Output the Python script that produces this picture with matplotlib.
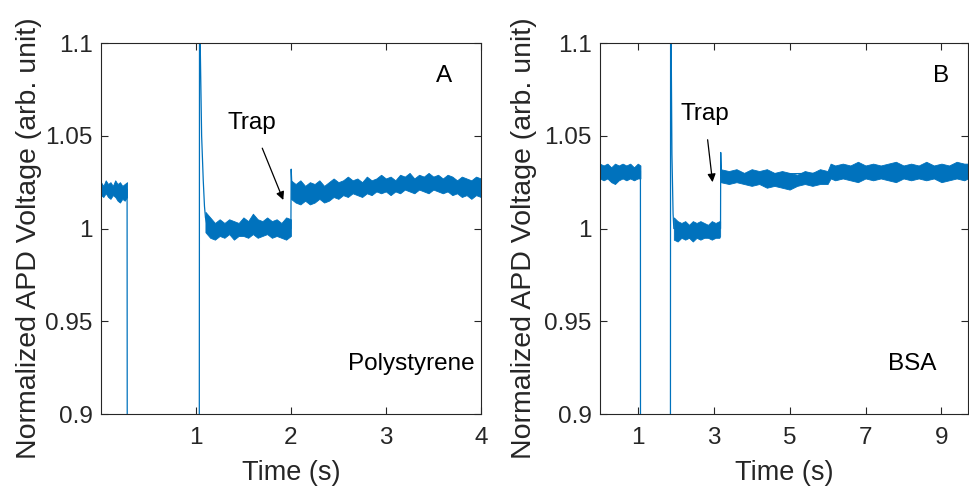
import matplotlib

matplotlib.use("Agg")
import matplotlib.pyplot as plt

# ---- panel A: polystyrene ----
# main trace through the transitions (drop, re-entry spike, decay, trap step)
trace_a_t = [0, 0.275, 0.277, 1.035, 1.038, 1.045, 1.06, 1.077, 1.09, 1.10, 1.12,
             1.99, 2.0, 2.003, 2.012, 4.0]
trace_a_v = [1.021, 1.021, 0.85, 0.85, 1.15, 1.10, 1.05, 1.026, 1.012, 1.006, 1.001,
             1.0, 1.0, 1.032, 1.021, 1.023]

# noise band envelopes (upper / lower edge), one set per flat stretch
band_a1_t = [0, 0.025, 0.05, 0.075, 0.1, 0.125, 0.15, 0.175, 0.2, 0.225, 0.25, 0.275]
band_a1_hi = [1.025, 1.023, 1.026, 1.024, 1.025, 1.023, 1.026, 1.024, 1.025, 1.023, 1.024, 1.025]
band_a1_lo = [1.018, 1.017, 1.019, 1.017, 1.016, 1.018, 1.017, 1.015, 1.014, 1.016, 1.015, 1.017]

band_a2_t = [1.10, 1.15, 1.20, 1.25, 1.30, 1.35, 1.40, 1.45, 1.50, 1.55,
             1.60, 1.65, 1.70, 1.75, 1.80, 1.85, 1.90, 1.95, 2.00]
band_a2_hi = [1.009, 1.006, 1.003, 1.005, 1.003, 1.005, 1.004, 1.003, 1.006, 1.004,
              1.008, 1.005, 1.004, 1.006, 1.004, 1.005, 1.003, 1.006, 1.005]
band_a2_lo = [0.998, 0.995, 0.994, 0.996, 0.995, 0.997, 0.994, 0.996, 0.996, 0.995,
              0.997, 0.995, 0.996, 0.997, 0.995, 0.996, 0.995, 0.994, 0.996]

band_a3_t = [2.00, 2.05, 2.10, 2.15, 2.20, 2.25, 2.30, 2.35, 2.40, 2.45,
             2.50, 2.55, 2.60, 2.65, 2.70, 2.75, 2.80, 2.85, 2.90, 2.95,
             3.00, 3.05, 3.10, 3.15, 3.20, 3.25, 3.30, 3.35, 3.40, 3.45,
             3.50, 3.55, 3.60, 3.65, 3.70, 3.75, 3.80, 3.85, 3.90, 3.95,
             4.00]
band_a3_hi = [1.026, 1.024, 1.026, 1.023, 1.025, 1.024, 1.026, 1.023, 1.025, 1.027,
              1.025, 1.026, 1.028, 1.026, 1.027, 1.025, 1.028, 1.026, 1.027, 1.029,
              1.027, 1.028, 1.026, 1.029, 1.028, 1.030, 1.027, 1.029, 1.028, 1.030,
              1.028, 1.029, 1.027, 1.029, 1.028, 1.026, 1.028, 1.027, 1.026, 1.028,
              1.027]
band_a3_lo = [1.016, 1.014, 1.013, 1.015, 1.013, 1.014, 1.016, 1.014, 1.015, 1.017,
              1.016, 1.018, 1.017, 1.019, 1.018, 1.017, 1.019, 1.018, 1.020, 1.019,
              1.020, 1.018, 1.020, 1.019, 1.021, 1.020, 1.019, 1.021, 1.020, 1.019,
              1.021, 1.020, 1.019, 1.020, 1.018, 1.019, 1.017, 1.018, 1.016, 1.018,
              1.017]

# ---- panel B: BSA ----
trace_b_t = [0, 1.07, 1.072, 1.86, 1.865, 1.88, 1.90, 1.93, 1.95,
             3.17, 3.18, 3.185, 3.2, 9.7]
trace_b_v = [1.031, 1.031, 0.85, 0.85, 1.15, 1.10, 1.04, 1.008, 1.0,
             1.0, 1.0, 1.041, 1.029, 1.031]

band_b1_t = [0, 0.1, 0.2, 0.3, 0.4, 0.5, 0.6, 0.7, 0.8, 0.9, 1.0, 1.07]
band_b1_hi = [1.035, 1.034, 1.035, 1.033, 1.035, 1.034, 1.035, 1.034, 1.035, 1.033, 1.035, 1.034]
band_b1_lo = [1.027, 1.026, 1.027, 1.025, 1.024, 1.026, 1.027, 1.026, 1.027, 1.026, 1.027, 1.027]

band_b2_t = [1.95, 2.05, 2.15, 2.25, 2.35, 2.45, 2.55, 2.65, 2.75, 2.85, 2.95, 3.05, 3.15, 3.17]
band_b2_hi = [1.006, 1.004, 1.003, 1.004, 1.002, 1.004, 1.003, 1.004, 1.003, 1.002,
              1.004, 1.003, 1.004, 1.004]
band_b2_lo = [0.994, 0.993, 0.995, 0.994, 0.995, 0.993, 0.995, 0.994, 0.995, 0.995,
              0.994, 0.995, 0.995, 0.996]

band_b3_t = [3.18, 3.4, 3.6, 3.8, 4.0, 4.2, 4.4, 4.6, 4.8, 5.0,
             5.2, 5.4, 5.6, 5.8, 6.0, 6.08,
             6.2, 6.4, 6.6, 6.8, 7.0, 7.2, 7.4, 7.6, 7.8, 8.0,
             8.2, 8.4, 8.6, 8.8, 9.0, 9.2, 9.4, 9.6, 9.7]
band_b3_hi = [1.032, 1.031, 1.032, 1.030, 1.032, 1.031, 1.032, 1.030, 1.031, 1.030,
              1.029, 1.031, 1.030, 1.032, 1.031, 1.035,
              1.034, 1.035, 1.034, 1.036, 1.034, 1.035, 1.034, 1.035, 1.036, 1.034,
              1.035, 1.034, 1.036, 1.034, 1.035, 1.034, 1.036, 1.035, 1.035]
band_b3_lo = [1.025, 1.024, 1.025, 1.024, 1.023, 1.024, 1.022, 1.023, 1.022, 1.021,
              1.023, 1.024, 1.023, 1.024, 1.024, 1.027,
              1.026, 1.027, 1.026, 1.025, 1.027, 1.026, 1.027, 1.026, 1.025, 1.027,
              1.026, 1.027, 1.026, 1.027, 1.025, 1.026, 1.027, 1.026, 1.027]

y_ticks = [0.9, 0.95, 1.0, 1.05, 1.1]
y_tick_labels = ["0.9", "0.95", "1", "1.05", "1.1"]
x_ticks_a = [1, 2, 3, 4]
x_ticks_b = [1, 3, 5, 7, 9]

BLUE = "#0072BD"
INK = "#262626"

plt.rcParams["font.family"] = ["Liberation Sans", "DejaVu Sans"]


def style_axis(ax, xlim, xticks, ylabel_x):
    ax.set_xlim(*xlim)
    ax.set_ylim(0.9, 1.1)
    ax.set_xticks(xticks)
    ax.set_xticklabels([str(t) for t in xticks])
    ax.set_yticks(y_ticks)
    ax.set_yticklabels(y_tick_labels)
    ax.tick_params(direction="in", top=True, right=True, length=5, width=0.8,
                   colors=INK, labelsize=17.5)
    ax.tick_params(axis="y", pad=6)
    ax.tick_params(axis="x", pad=9)
    for side in ax.spines.values():
        side.set_color(INK)
        side.set_linewidth(0.8)
    ax.set_xlabel("Time (s)", fontsize=19.5, color=INK, labelpad=8)
    ax.set_ylabel("Normalized APD Voltage (arb. unit)", fontsize=20.5, color=INK)
    ax.yaxis.set_label_coords(ylabel_x, 0.474)


def draw_panel(ax, trace_t, trace_v, bands):
    ax.plot(trace_t, trace_v, color=BLUE, lw=0.9)
    for t, lo, hi in bands:
        ax.fill_between(t, lo, hi, color=BLUE, lw=0.6, edgecolor=BLUE)


fig = plt.figure(figsize=(9.69, 4.9), dpi=100)
ax_a = fig.add_axes([0.1042, 0.1551, 0.392, 0.757])
ax_b = fig.add_axes([0.619, 0.1551, 0.380, 0.757])

draw_panel(ax_a, trace_a_t, trace_a_v,
           [(band_a1_t, band_a1_lo, band_a1_hi),
            (band_a2_t, band_a2_lo, band_a2_hi),
            (band_a3_t, band_a3_lo, band_a3_hi)])
style_axis(ax_a, (0, 4), x_ticks_a, -0.155)
ax_a.text(3.61, 1.082, "A", fontsize=17.5, ha="center", va="center")
ax_a.text(3.27, 0.927, "Polystyrene", fontsize=17.5, ha="center", va="center")
ax_a.annotate("Trap", xy=(1.92, 1.0154), xytext=(1.59, 1.057), fontsize=17.5,
              ha="center", va="center",
              arrowprops=dict(arrowstyle="-|>", color="black", lw=0.9,
                              shrinkA=9, shrinkB=0, mutation_scale=12))

draw_panel(ax_b, trace_b_t, trace_b_v,
           [(band_b1_t, band_b1_lo, band_b1_hi),
            (band_b2_t, band_b2_lo, band_b2_hi),
            (band_b3_t, band_b3_lo, band_b3_hi)])
style_axis(ax_b, (0, 9.7), x_ticks_b, -0.171)
ax_b.text(8.98, 1.082, "B", fontsize=17.5, ha="center", va="center")
ax_b.text(8.24, 0.927, "BSA", fontsize=17.5, ha="center", va="center")
ax_b.annotate("Trap", xy=(2.97, 1.025), xytext=(2.76, 1.062), fontsize=17.5,
              ha="center", va="center",
              arrowprops=dict(arrowstyle="-|>", color="black", lw=0.9,
                              shrinkA=9, shrinkB=0, mutation_scale=12))

fig.savefig("out.png", dpi=100)
